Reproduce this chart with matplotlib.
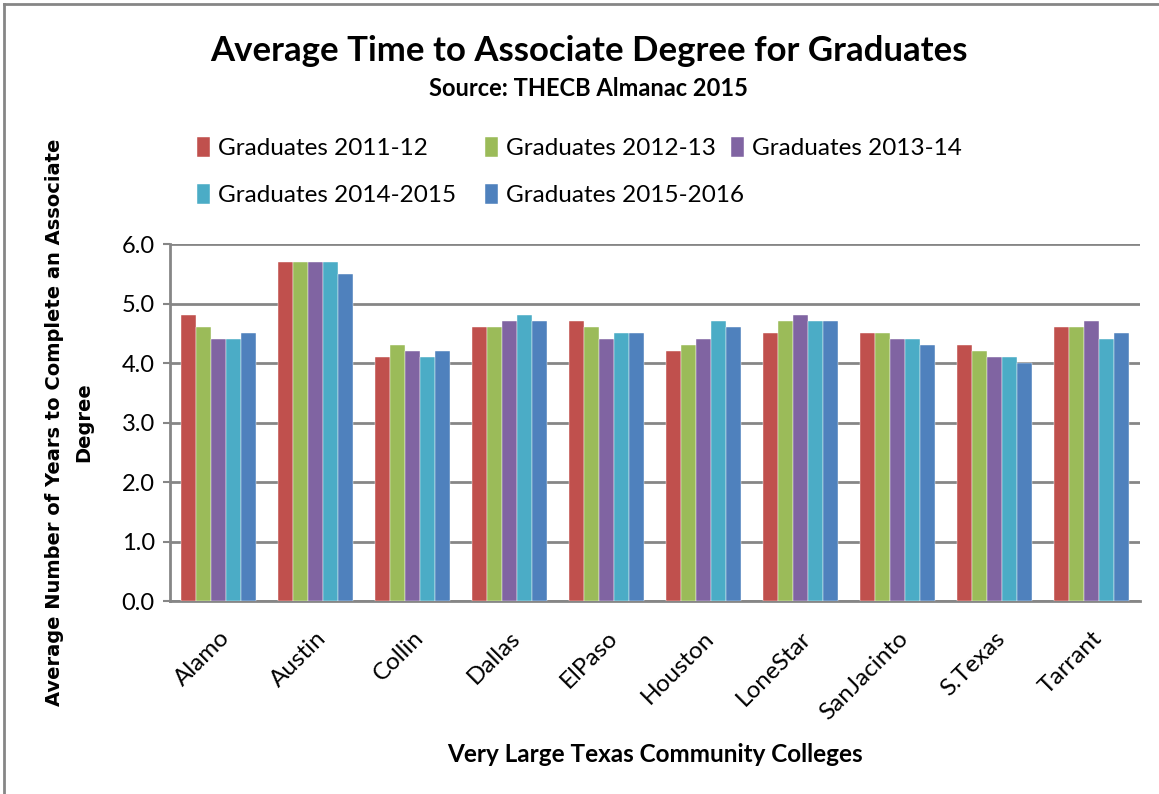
import numpy as np
import matplotlib.pyplot as plt
from matplotlib.lines import Line2D

colleges = ["Alamo", "Austin", "Collin", "Dallas", "ElPaso", "Houston",
            "LoneStar", "SanJacinto", "S.Texas", "Tarrant"]
series_names = ["Graduates 2011-12", "Graduates 2012-13", "Graduates 2013-14",
                "Graduates 2014-2015", "Graduates 2015-2016"]
g2011 = [4.8, 5.7, 4.1, 4.6, 4.7, 4.2, 4.5, 4.5, 4.3, 4.6]
g2012 = [4.6, 5.7, 4.3, 4.6, 4.6, 4.3, 4.7, 4.5, 4.2, 4.6]
g2013 = [4.4, 5.7, 4.2, 4.7, 4.4, 4.4, 4.8, 4.4, 4.1, 4.7]
g2014 = [4.4, 5.7, 4.1, 4.8, 4.5, 4.7, 4.7, 4.4, 4.1, 4.4]
g2015 = [4.5, 5.5, 4.2, 4.7, 4.5, 4.6, 4.7, 4.3, 4.0, 4.5]
yticks = [0.0, 1.0, 2.0, 3.0, 4.0, 5.0, 6.0]

colors = ["#C0504D", "#9BBB59", "#8064A2", "#4BACC6", "#4F81BD"]
narrow = ["Lato", "DejaVu Sans"]

fig = plt.figure(figsize=(11.59, 7.94), dpi=100)
ax = fig.add_axes([170/1159, 1-601/794, 970/1159, 357/794])

x = np.arange(len(colleges))
w = 0.155
handles = []
for i, vals in enumerate([g2011, g2012, g2013, g2014, g2015]):
    b = ax.bar(x + (i-2)*w, vals, w, color=colors[i], label=series_names[i],
               edgecolor="white", linewidth=0.3, zorder=3)
    handles.append(b)

ax.set_xlim(-0.5, len(colleges)-0.5)
ax.set_ylim(0, 6.0)
ax.set_yticks(yticks)
ax.set_yticklabels(["%.1f" % v for v in yticks], family=narrow, fontsize=17)
ax.yaxis.grid(True, color="#868686", linewidth=2, zorder=0)
for s in ["top", "right"]:
    ax.spines[s].set_visible(False)
ax.spines["left"].set_color("#868686")
ax.spines["left"].set_linewidth(2)
ax.spines["bottom"].set_color("#868686")
ax.spines["bottom"].set_linewidth(2)
ax.tick_params(axis="y", length=5, width=1.5, color="#868686", pad=6)
ax.set_xticks(x)
ax.set_xticklabels(colleges, rotation=45, ha="right", rotation_mode="anchor",
                   family=narrow, fontsize=17.5)
ax.tick_params(axis="x", length=0, pad=19)

ax.set_ylabel("Average Number of Years to Complete an Associate\nDegree",
              fontsize=14, fontweight="bold", labelpad=20, linespacing=1.7)
ax.set_xlabel("Very Large Texas Community Colleges", family=narrow,
              fontsize=17.5, fontweight="bold", labelpad=14)

fig.text(0.508, 0.936, "Average Time to Associate Degree for Graduates",
         ha="center", va="center", family=narrow, fontsize=25, fontweight="bold")
fig.text(0.508, 0.888, "Source: THECB Almanac 2015", ha="center", va="center",
         family=narrow, fontsize=17, fontweight="bold")

# legend entries placed the way Excel flows them
leg_pos = [(197, 148), (485, 148), (731, 148), (197, 195), (485, 195)]
for k in range(5):
    px, py = leg_pos[k]
    fig.legend([handles[k]], [series_names[k]], loc="center left",
               bbox_to_anchor=(px/1159, 1-py/794), borderpad=0, borderaxespad=0,
               frameon=False, prop={"family": narrow, "size": 17.5},
               handlelength=0.55, handleheight=0.9, handletextpad=0.3)

fig.add_artist(Line2D([4/1159, 4/1159], [0, 1-4/794], color="#868686", lw=2))
fig.add_artist(Line2D([4/1159, 1], [1-4/794, 1-4/794], color="#868686", lw=2))

fig.savefig("out.png", dpi=100)
